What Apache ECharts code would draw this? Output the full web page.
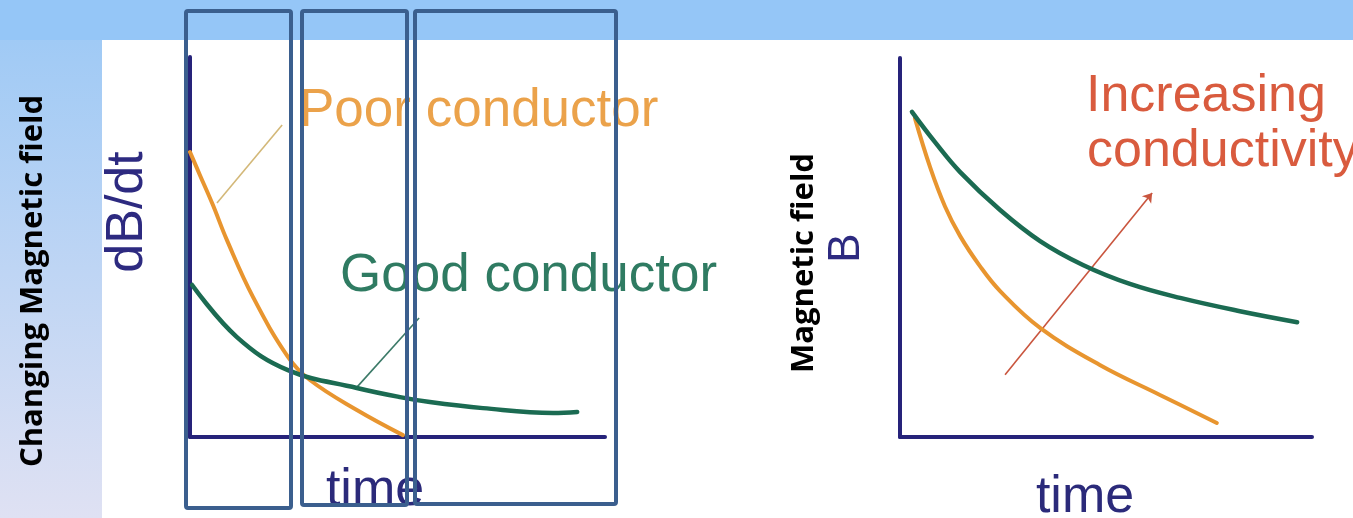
<!DOCTYPE html>
<html>
<head>
<meta charset="utf-8">
<script src="https://cdn.jsdelivr.net/npm/echarts@6/dist/echarts.min.js"></script>
<style>
  html, body { margin: 0; padding: 0; background: #ffffff; }
  #chart { width: 1353px; height: 518px; }
</style>
</head>
<body>
<div id="chart"></div>
<script>
// ---- Data (time and field in arbitrary 0-100 units) ----
// Left panel: dB/dt vs time
const poorTime  = [0, 2.4, 5.5, 8.9, 15.2, 23.6, 28.9, 40.2, 51.3];
const poorDBdt  = [75.0, 68.9, 61.1, 51.8, 36.8, 21.1, 15.0, 7.1, 0.5];
const goodTime  = [0.5, 11.3, 23.6, 40.2, 50.6, 57.8, 70.6, 87.5, 93.3];
const goodDBdt  = [40.0, 26.3, 17.6, 12.9, 10.5, 9.2, 7.6, 6.3, 6.6];
// Right panel: B vs time
const lowSigTime = [3.6, 7.3, 10.9, 14.6, 19.4, 24.3, 34.0, 48.5, 63.1, 76.9];
const lowSigB    = [84.2, 71.2, 60.9, 53.0, 45.1, 38.5, 28.8, 19.0, 11.1, 3.7];
const highSigTime = [2.9, 8.5, 14.6, 24.3, 34.0, 44.4, 55.8, 68.0, 82.5, 96.4];
const highSigB    = [85.8, 77.8, 69.9, 59.9, 51.7, 45.4, 40.4, 36.7, 33.2, 30.3];
// Annotation pointers (data coordinates)
const poorPointer = [[6.5, 61.6], [22.2, 82.1]];
const goodPointer = [[39.8, 12.6], [55.2, 31.3]];
const sigmaArrow  = [[25.5, 16.4], [61.2, 64.4]];
// Texts
const labels = {
  poor: 'Poor conductor',
  good: 'Good conductor',
  incr1: 'Increasing',
  incr2: 'conductivity',
  leftY: 'dB/dt',
  leftX: 'time',
  rightY: 'B',
  rightX: 'time',
  side: 'Changing Magnetic field',
  rightSide: 'Magnetic field'
};

const zip = (xs, ys) => xs.map((x, i) => [x, ys[i]]);

const NAVY = '#26237a';
const ORANGE = '#e8952f';
const GREEN = '#1b6b52';
const BOX = '#3b5f8e';
const ARIAL = '"Liberation Sans", Arial, sans-serif';

function axisPair(gridIndex) {
  return {
    x: { type: 'value', gridIndex, min: 0, max: 100,
         axisLine: { show: true, lineStyle: { color: NAVY, width: 4 } },
         axisTick: { show: false }, axisLabel: { show: false }, splitLine: { show: false } },
    y: { type: 'value', gridIndex, min: 0, max: 100,
         axisLine: { show: true, lineStyle: { color: NAVY, width: 4 } },
         axisTick: { show: false }, axisLabel: { show: false }, splitLine: { show: false } }
  };
}
const a0 = axisPair(0), a1 = axisPair(1);

const curve = (name, xi, data, color, width) => ({
  type: 'line', name, xAxisIndex: xi, yAxisIndex: xi, data,
  smooth: 0.4, showSymbol: false, symbol: 'none',
  lineStyle: { color, width, cap: 'round' }, z: 5, silent: true
});
const pointer = (xi, coords, color, arrow) => ({
  type: 'lines', coordinateSystem: 'cartesian2d', xAxisIndex: xi, yAxisIndex: xi,
  data: [{ coords }], symbol: arrow ? ['none', 'arrow'] : ['none', 'none'], symbolSize: 9,
  lineStyle: { color, width: 1.6, opacity: 1 }, z: 4, silent: true
});

const txt = (text, x, y, font, color, align) => ({
  type: 'text', x, y, z: 50,
  style: { text, font, fill: color, textAlign: align || 'left', textVerticalAlign: 'middle' }
});
const vtxt = (text, x, y, font, color) => ({
  type: 'text', x, y, rotation: Math.PI / 2, z: 50,
  style: { text, font, fill: color, textAlign: 'center', textVerticalAlign: 'middle' }
});

const option = {
  animation: false,
  backgroundColor: '#ffffff',
  grid: [
    { left: 190, top: 57, width: 415, height: 380 },
    { left: 900, top: 58, width: 412, height: 379 }
  ],
  xAxis: [a0.x, a1.x],
  yAxis: [a0.y, a1.y],
  series: [
    curve(labels.poor, 0, zip(poorTime, poorDBdt), ORANGE, 4),
    curve(labels.good, 0, zip(goodTime, goodDBdt), GREEN, 4.5),
    curve('Low conductivity', 1, zip(lowSigTime, lowSigB), ORANGE, 4),
    curve('High conductivity', 1, zip(highSigTime, highSigB), GREEN, 4.5),
    pointer(0, poorPointer, '#d3b878', false),
    pointer(0, goodPointer, '#3c7a68', false),
    pointer(1, sigmaArrow, '#c9553e', true)
  ],
  graphic: [
    // background bands
    { type: 'rect', z: -10, shape: { x: 0, y: 0, width: 1353, height: 40 }, style: { fill: '#95c6f7' } },
    { type: 'rect', z: -10, shape: { x: 0, y: 40, width: 102, height: 478 },
      style: { fill: new echarts.graphic.LinearGradient(0, 0, 0, 1, [
        { offset: 0, color: '#a0caf5' }, { offset: 1, color: '#dfe1f3' }]) } },
    // texts
    txt(labels.poor, 299, 111, '53px ' + ARIAL, '#eba24a'),
    txt(labels.good, 340, 276, '53px ' + ARIAL, '#2f7b62'),
    txt(labels.incr1, 1086, 97, '52px ' + ARIAL, '#d95b3e'),
    txt(labels.incr2, 1087, 152, '52px ' + ARIAL, '#d95b3e'),
    txt(labels.leftX, 375, 491, '52px ' + ARIAL, '#2b2a7a', 'center'),
    txt(labels.rightX, 1085, 498, '52px ' + ARIAL, '#2b2a7a', 'center'),
    vtxt(labels.leftY, 128, 212, '52px ' + ARIAL, '#2d2a80'),
    vtxt(labels.rightY, 847, 248, '44px ' + ARIAL, '#2d2a80'),
    vtxt(labels.side, 33, 281, 'bold 31px "Open Sans", sans-serif', '#000000'),
    vtxt(labels.rightSide, 804, 263, 'bold 31px "Open Sans", sans-serif', '#000000'),
    // highlight boxes
    { type: 'rect', z: 100, shape: { x: 186, y: 11, width: 105, height: 497, r: 2 }, style: { fill: 'none', stroke: BOX, lineWidth: 4 } },
    { type: 'rect', z: 100, shape: { x: 302, y: 11, width: 105, height: 494, r: 2 }, style: { fill: 'none', stroke: BOX, lineWidth: 4 } },
    { type: 'rect', z: 100, shape: { x: 415, y: 11, width: 201, height: 493, r: 2 }, style: { fill: 'none', stroke: BOX, lineWidth: 4 } }
  ]
};

const chart = echarts.init(document.getElementById('chart'), null, { renderer: 'canvas' });
chart.setOption(option);
</script>
</body>
</html>
